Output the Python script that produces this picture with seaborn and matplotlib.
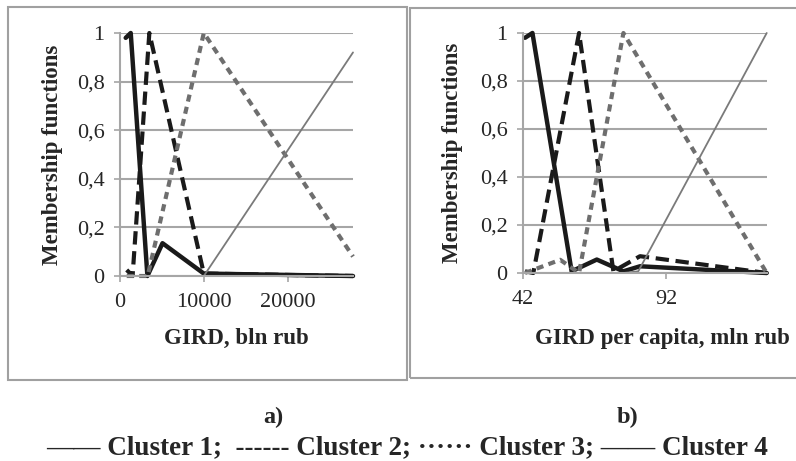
import matplotlib
matplotlib.use("Agg")
import matplotlib.pyplot as plt
import seaborn as sns
from matplotlib.patches import Rectangle
from matplotlib.ticker import FuncFormatter

# a) GIRD, bln rub
gird_c1_x = [680, 1280, 3270, 5070, 10000, 27800]
gird_c1_y = [0.98, 1.0, 0.0, 0.135, 0.01, 0.0]
gird_c2_x = [800, 1500, 3500, 10000, 27800]
gird_c2_y = [0.025, 0.0, 1.0, 0.01, 0.0]
gird_c3_x = [800, 3300, 10000, 27800]
gird_c3_y = [0.0, 0.0, 1.0, 0.08]
gird_c4_x = [800, 10000, 27800]
gird_c4_y = [0.0, 0.0, 0.92]

# b) GIRD per capita, mln rub
pc_c1_x = [42.7, 45.3, 59.0, 67.8, 77.1, 82.9, 127.2]
pc_c1_y = [0.98, 1.0, 0.007, 0.056, 0.007, 0.028, 0.0]
pc_c2_x = [42.7, 45.6, 61.6, 73.6, 82.9, 127.2]
pc_c2_y = [0.007, 0.0, 1.0, 0.007, 0.07, 0.0]
pc_c3_x = [42.7, 55.0, 61.6, 77.1, 127.2]
pc_c3_y = [0.0, 0.055, 0.0, 1.0, 0.0]
pc_c4_x = [42.7, 61.6, 77.1, 82.3, 127.2]
pc_c4_y = [0.0, 0.0, 0.0, 0.007, 1.0]

y_ticks = [0, 0.2, 0.4, 0.6, 0.8, 1.0]
gird_ticks = [0, 10000, 20000]
pc_ticks = [42, 92]

sns.set_style("white")
plt.rcParams['font.family'] = ['Liberation Serif', 'DejaVu Serif']

W, H = 796, 461
fig = plt.figure(figsize=(W / 100, H / 100), dpi=100)


def px_rect(x0, y0, x1, y1):
    # pixel box (top-left origin) -> figure fraction [left, bottom, width, height]
    return [x0 / W, 1 - y1 / H, (x1 - x0) / W, (y1 - y0) / H]


# panel frames
for x0, y0, x1, y1 in [(8, 7, 407, 380), (410, 8, 800, 378)]:
    l, b, w, h = px_rect(x0, y0, x1, y1)
    fig.patches.append(Rectangle((l, b), w, h, transform=fig.transFigure,
                                 fill=False, edgecolor='#a0a0a0', lw=1.5))

grid_col = '#a6a6a6'
styles = [
    dict(color='#1a1a1a', lw=3.2, dash=None),
    dict(color='#1a1a1a', lw=3.0, dash=(3.2, 1.6)),
    dict(color='#6e6e6e', lw=3.0, dash=(1.7, 1.3)),
    dict(color='#7a7a7a', lw=1.3, dash=None),
]


def draw_panel(ax, series, xlim, xticks, xlabel, label_y, label_x):
    for (xs, ys), st in zip(series, styles):
        sns.lineplot(x=xs, y=ys, ax=ax, color=st['color'], lw=st['lw'])
        line = ax.lines[-1]
        line.set_clip_on(False)
        line.set_solid_capstyle('round')
        if st['dash'] is not None:
            line.set_dashes(st['dash'])
    ax.set_xlim(*xlim)
    ax.set_ylim(0, 1)
    ax.set_yticks(y_ticks)
    ax.set_xticks(xticks)
    ax.yaxis.set_major_formatter(FuncFormatter(
        lambda v, p: ('%g' % round(v, 1)).replace('.', ',')))
    ax.grid(axis='y', color=grid_col, lw=1.5)
    ax.set_axisbelow(True)
    for s in ['top', 'right']:
        ax.spines[s].set_visible(False)
    for s in ['left', 'bottom']:
        ax.spines[s].set_color(grid_col)
        ax.spines[s].set_linewidth(1.5)
    ax.tick_params(axis='both', direction='out', length=4, width=1.2,
                   color=grid_col, labelsize=16)
    ax.tick_params(axis='x', pad=8)
    ax.tick_params(axis='y', pad=7)
    ax.tick_params(left=True, bottom=True)
    ax.set_xlabel(xlabel, fontsize=16.5, fontweight='bold')
    ax.xaxis.set_label_coords(label_x, -label_y)
    ax.set_ylabel('Membership functions', fontsize=16.5, fontweight='bold')
    ax.yaxis.set_label_coords(-0.245, 0.5)


ax1 = fig.add_axes(px_rect(120, 33, 353, 276))
draw_panel(ax1, [(gird_c1_x, gird_c1_y), (gird_c2_x, gird_c2_y),
                 (gird_c3_x, gird_c3_y), (gird_c4_x, gird_c4_y)],
           (0, 27800), gird_ticks, 'GIRD, bln rub', 0.215, 0.5)

ax2 = fig.add_axes(px_rect(523, 33, 767, 273))
draw_panel(ax2, [(pc_c1_x, pc_c1_y), (pc_c2_x, pc_c2_y),
                 (pc_c3_x, pc_c3_y), (pc_c4_x, pc_c4_y)],
           (42, 127.3), pc_ticks, 'GIRD per capita, mln rub', 0.23, 0.57)

fig.text(273 / W, 1 - 417 / H, 'a)', ha='center', va='center',
         fontsize=17.5, fontweight='bold')
fig.text(628 / W, 1 - 417 / H, 'b)', ha='center', va='center',
         fontsize=17.5, fontweight='bold')
fig.text(407 / W, 1 - 448 / H,
         '—— Cluster 1;  ------ Cluster 2; \u00b7\u00b7\u00b7\u00b7\u00b7\u00b7 Cluster 3; —— Cluster 4',
         ha='center', va='center', fontsize=19.5, fontweight='bold')

fig.savefig('out.png', dpi=100)
